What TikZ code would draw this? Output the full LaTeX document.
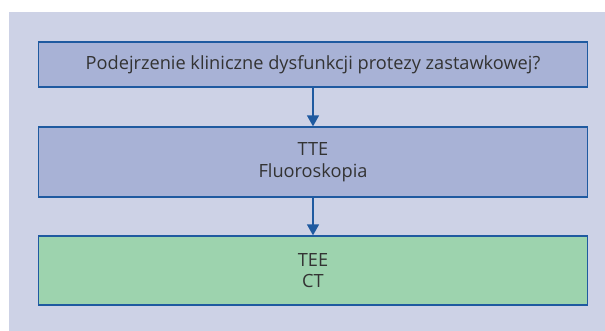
\documentclass[tikz,border=0pt]{standalone}
\usepackage{fontspec}
\setmainfont{Open Sans}
\usetikzlibrary{arrows.meta}
\definecolor{panelbg}{HTML}{CDD2E6}
\definecolor{boxblue}{HTML}{A8B2D6}
\definecolor{boxgreen}{HTML}{9DD3AE}
\definecolor{edgeblue}{HTML}{1F5AA0}
\definecolor{textgrey}{HTML}{333333}
\tikzset{
  flowbox/.style={draw=edgeblue, line width=1.3pt, text=textgrey,
    font=\fontsize{18.2}{21.5}\selectfont, align=center, inner sep=0pt},
  flowarrow/.style={draw=edgeblue, line width=1.4pt,
    -{Triangle[length=11pt,width=12pt]}}
}
\begin{document}
\begin{tikzpicture}[x=1pt,y=-1pt]
  \useasboundingbox (0,0) rectangle (605,331);
  \fill[white] (0,0) rectangle (605,331);
  \fill[panelbg] (9,12) rectangle (605,331);
  \node[flowbox, fill=boxblue, minimum width=548.5pt, minimum height=45pt]
    (q) at (313,64.5) {Podejrzenie kliniczne dysfunkcji protezy zastawkowej?};
  \node[flowbox, fill=boxblue, minimum width=548.5pt, minimum height=70pt]
    (tte) at (313,162) {TTE\\Fluoroskopia};
  \node[flowbox, fill=boxgreen, minimum width=548.5pt, minimum height=69pt]
    (tee) at (313,270.5) {TEE\\CT};
  \draw[flowarrow] (q) -- (tte);
  \draw[flowarrow] (tte) -- (tee);
\end{tikzpicture}
\end{document}
